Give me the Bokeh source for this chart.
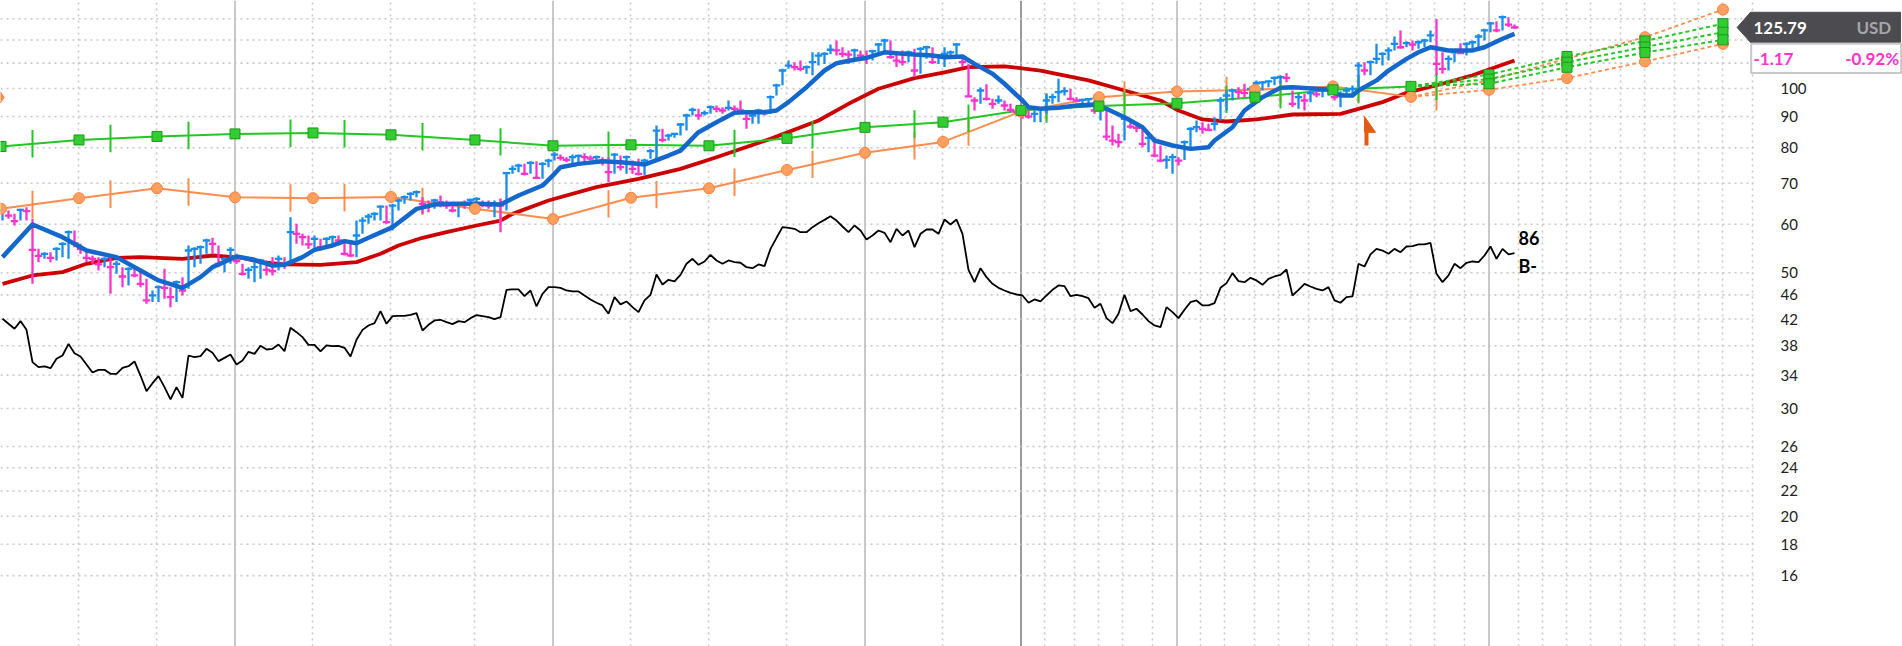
import numpy as np
from bokeh.plotting import figure
from bokeh.models import Range1d, FixedTicker, PrintfTickFormatter, Span
from bokeh.core.properties import value
from bokeh.embed import file_html
from bokeh.resources import INLINE

# ---------------- weekly price bars (week index 0..252) ----------------
high = [63.98, 63.19, 62.40, 63.58, 63.98, 61.24, 54.70, 54.02, 54.02, 55.05,
        56.10, 58.61, 58.61, 55.74, 54.02, 53.35, 53.02, 53.02, 53.02, 52.36,
        51.06, 51.06, 51.06, 50.74, 48.87, 46.77, 47.66, 50.74, 47.36, 48.57,
        49.18, 55.40, 55.05, 55.40, 56.80, 57.02, 55.40, 53.02, 55.05, 53.69,
        51.71, 51.06, 52.36, 52.69, 52.36, 53.02, 53.35, 53.02, 61.62, 60.10,
        57.88, 57.52, 57.52, 56.80, 57.16, 57.52, 57.52, 56.45, 55.74, 60.85,
        61.62, 62.40, 62.79, 64.38, 64.38, 64.79, 66.02, 66.86, 67.70, 68.12,
        66.44, 65.61, 66.02, 66.86, 65.61, 65.20, 65.20, 65.61, 66.02, 66.44,
        65.61, 65.61, 65.61, 66.02, 72.99, 74.84, 75.31, 75.31, 76.07, 76.07,
        75.78, 76.74, 78.69, 78.00, 77.22, 78.00, 78.00, 78.40, 77.71, 77.71,
        77.22, 77.22, 78.40, 77.71, 77.71, 76.26, 76.74, 76.74, 79.68, 87.00,
        85.91, 84.31, 84.52, 87.77, 90.91, 93.00, 92.64, 92.06, 93.81, 93.81,
        93.22, 95.59, 93.81, 95.59, 92.06, 91.48, 92.64, 92.29, 97.41, 101.8,
        107.7, 111.1, 110.4, 111.1, 109.0, 114.6, 114.6, 114.6, 118.0, 119.8,
        116.8, 115.4, 116.1, 115.4, 115.4, 115.7, 118.6, 120.6, 119.8, 113.9,
        115.4, 115.4, 116.1, 116.8, 117.5, 116.8, 113.9, 116.8, 115.4, 118.6,
        112.5, 109.7, 96.80, 100.4, 101.6, 96.19, 97.41, 95.59, 94.40, 93.22,
        92.64, 92.06, 92.06, 93.22, 98.02, 98.02, 103.7, 100.5, 99.90, 96.80,
        96.19, 96.43, 95.59, 94.40, 92.06, 87.00, 84.31, 90.34, 88.10, 87.55,
        85.91, 83.78, 83.26, 80.69, 77.71, 78.20, 77.22, 82.22, 86.45, 88.65,
        88.10, 87.55, 89.77, 96.80, 99.26, 99.90, 100.5, 101.8, 100.8, 103.1,
        102.8, 103.1, 104.6, 105.0, 105.9, 99.26, 98.02, 98.02, 99.26, 99.26,
        100.3, 101.1, 100.3, 99.01, 100.5, 101.1, 110.4, 110.4, 111.1, 118.3,
        114.6, 116.8, 121.6, 124.4, 119.5, 119.8, 119.8, 120.6, 124.4, 129.9,
        114.6, 113.2, 115.4, 118.6, 119.0, 119.8, 122.8, 125.2, 128.4, 128.8,
        131.6, 130.8, 127.2]
low = [60.85, 61.24, 59.72, 60.85, 60.85, 47.96, 52.03, 52.69, 52.03, 52.36,
       53.02, 52.69, 55.05, 53.69, 52.03, 51.71, 50.43, 51.06, 46.19, 49.80,
       47.36, 47.66, 49.18, 47.36, 44.49, 44.77, 44.77, 45.33, 43.93, 44.77,
       45.90, 47.06, 51.06, 51.71, 53.69, 53.69, 51.06, 50.11, 51.71, 51.71,
       49.49, 48.87, 48.26, 48.87, 49.49, 49.49, 50.43, 50.74, 51.71, 55.74,
       55.40, 54.70, 54.70, 54.36, 54.70, 55.05, 55.40, 53.35, 53.02, 53.02,
       57.88, 60.10, 60.85, 60.85, 60.10, 58.61, 63.19, 64.79, 65.61, 66.44,
       62.40, 62.79, 63.58, 63.98, 63.58, 62.79, 61.62, 63.58, 63.58, 63.98,
       63.98, 63.58, 61.62, 58.24, 63.19, 72.53, 72.99, 72.08, 72.53, 71.18,
       71.18, 74.37, 76.26, 76.26, 75.78, 75.31, 75.78, 75.78, 76.26, 75.31,
       74.84, 70.29, 72.53, 73.45, 72.53, 72.53, 72.08, 72.08, 76.74, 76.26,
       81.70, 82.22, 83.05, 83.78, 85.37, 90.34, 88.87, 90.34, 90.91, 91.48,
       90.91, 92.06, 91.48, 90.91, 85.91, 87.55, 87.55, 90.34, 90.91, 97.41,
       101.2, 107.7, 107.0, 106.7, 105.7, 105.1, 109.0, 109.7, 113.9, 113.2,
       112.5, 109.7, 111.8, 111.1, 109.7, 111.1, 113.9, 114.6, 111.8, 108.4,
       109.0, 110.4, 104.4, 105.7, 111.8, 109.7, 109.7, 108.4, 111.8, 113.2,
       108.4, 96.80, 92.06, 94.40, 95.59, 92.64, 94.40, 92.06, 91.48, 90.91,
       89.21, 89.21, 88.10, 88.10, 90.91, 94.40, 95.00, 97.41, 95.59, 95.00,
       93.81, 94.40, 90.91, 88.65, 82.22, 80.69, 80.18, 82.22, 85.91, 84.84,
       80.18, 78.69, 77.22, 75.78, 73.91, 72.53, 74.84, 76.45, 80.18, 84.84,
       84.31, 85.16, 85.37, 88.65, 92.06, 95.59, 96.19, 96.80, 96.19, 99.89,
       99.26, 100.5, 101.2, 101.8, 102.4, 93.22, 92.64, 92.06, 95.00, 96.80,
       96.80, 97.41, 95.59, 93.22, 96.80, 96.80, 100.5, 105.1, 105.1, 109.7,
       109.0, 111.1, 115.4, 116.1, 116.8, 115.4, 116.1, 116.8, 119.0, 105.1,
       105.7, 107.0, 110.4, 113.9, 113.2, 115.4, 116.8, 119.8, 123.6, 123.6,
       124.4, 126.0, 125.2]
close = [63.19, 62.00, 60.70, 63.35, 63.03, 54.50, 53.29, 53.69, 52.89, 54.70,
         55.74, 58.24, 55.88, 54.70, 52.89, 52.69, 51.58, 52.69, 51.06, 51.71,
         49.30, 50.74, 49.49, 47.96, 45.05, 45.90, 47.36, 47.24, 45.61, 48.26,
         46.77, 54.36, 54.70, 55.05, 56.45, 55.74, 51.71, 52.69, 54.50, 52.23,
         49.80, 50.55, 51.06, 52.36, 50.55, 50.30, 52.69, 51.71, 58.24, 57.88,
         57.16, 55.61, 56.80, 55.05, 56.80, 57.16, 56.45, 53.69, 53.35, 57.52,
         60.85, 61.78, 62.40, 64.14, 60.47, 64.38, 65.61, 66.44, 67.28, 67.70,
         64.79, 64.38, 65.61, 65.20, 64.38, 63.19, 64.79, 64.63, 65.77, 66.02,
         64.79, 64.38, 64.79, 64.38, 72.71, 73.91, 74.84, 72.53, 75.60, 71.45,
         75.31, 76.26, 78.00, 77.03, 76.45, 77.22, 77.61, 77.22, 76.84, 77.22,
         76.26, 72.99, 78.00, 74.37, 77.22, 73.91, 72.53, 76.26, 78.98, 85.37,
         82.43, 83.78, 84.31, 87.33, 90.34, 92.29, 90.34, 91.14, 93.22, 92.64,
         92.06, 92.99, 92.64, 92.06, 89.21, 90.34, 92.06, 91.14, 96.80, 101.2,
         107.0, 109.0, 108.4, 107.7, 108.4, 110.4, 113.2, 113.9, 115.7, 115.4,
         113.9, 113.6, 115.4, 113.2, 112.5, 115.1, 118.0, 119.8, 112.5, 111.1,
         110.4, 114.6, 107.0, 116.1, 116.8, 110.4, 113.2, 113.9, 114.6, 118.0,
         110.4, 97.05, 95.59, 99.26, 96.19, 94.40, 95.59, 93.81, 92.29, 91.48,
         90.91, 90.00, 90.91, 92.64, 95.59, 96.80, 98.64, 99.01, 96.19, 95.59,
         95.83, 96.07, 92.06, 93.22, 83.47, 82.22, 81.70, 89.21, 86.67, 86.24,
         81.19, 83.05, 77.71, 76.26, 76.45, 77.22, 76.26, 81.70, 85.91, 86.45,
         85.91, 85.59, 87.55, 95.59, 97.41, 99.26, 98.64, 98.27, 99.89, 102.0,
         102.3, 102.7, 104.1, 104.4, 104.1, 94.40, 96.80, 95.59, 98.27, 97.78,
         99.51, 100.3, 96.80, 98.02, 99.26, 99.89, 109.0, 107.0, 110.4, 111.8,
         113.9, 115.4, 118.3, 116.8, 118.6, 118.0, 119.0, 119.8, 122.1, 109.7,
         107.7, 111.8, 114.6, 114.2, 118.3, 119.0, 121.6, 124.4, 127.8, 124.4,
         130.8, 127.2, 125.79]

# ---------------- relative strength line ----------------
rs_line = [42.05, 41.26, 40.49, 41.68, 40.33, 35.72, 35.05, 35.14, 34.92, 36.17,
           36.62, 38.26, 36.94, 36.48, 35.40, 34.35, 34.70, 34.70, 34.18, 34.18,
           34.96, 35.18, 35.81, 33.96, 32.02, 33.00, 33.88, 32.51, 31.04, 32.51,
           31.23, 36.62, 36.39, 36.53, 37.55, 36.99, 35.85, 36.30, 36.76, 35.40,
           35.94, 37.13, 36.85, 37.98, 37.46, 37.55, 38.17, 37.22, 40.64, 39.98,
           39.24, 38.12, 38.12, 37.18, 38.03, 37.93, 37.98, 37.70, 36.48, 38.85,
           40.33, 41.00, 41.36, 43.27, 41.26, 42.47, 42.52, 42.52, 42.68, 42.95,
           40.23, 41.10, 41.78, 41.89, 41.52, 41.21, 41.68, 41.52, 42.15, 42.63,
           42.47, 42.31, 42.00, 42.31, 46.89, 46.95, 46.95, 45.78, 46.77, 44.04,
           46.19, 47.36, 47.36, 47.24, 46.77, 46.60, 46.60, 45.90, 45.22, 44.66,
           44.21, 42.84, 45.61, 44.38, 44.88, 43.93, 43.11, 45.05, 46.01, 49.67,
           47.84, 48.69, 48.39, 49.61, 51.71, 52.69, 51.51, 52.16, 53.49, 52.36,
           51.71, 52.36, 52.03, 51.91, 51.06, 50.87, 51.58, 51.26, 54.70, 57.02,
           59.35, 59.20, 58.98, 58.24, 58.24, 59.35, 60.25, 61.00, 61.85, 60.85,
           59.50, 58.24, 59.72, 58.61, 56.66, 57.52, 58.61, 58.10, 56.10, 58.98,
           57.52, 58.61, 55.05, 57.88, 58.83, 58.83, 57.88, 61.08, 59.95, 61.08,
           57.88, 50.55, 48.26, 50.87, 49.18, 47.96, 47.24, 46.77, 46.36, 46.07,
           45.90, 44.66, 45.22, 44.88, 45.90, 46.89, 47.66, 47.54, 45.78, 46.01,
           45.78, 45.44, 43.82, 44.49, 42.15, 41.36, 42.84, 46.01, 43.27, 43.66,
           42.73, 41.68, 41.00, 40.74, 43.93, 43.11, 42.15, 43.49, 44.77, 45.05,
           44.21, 44.21, 44.60, 47.24, 48.08, 49.92, 48.45, 48.26, 49.05, 48.57,
           47.78, 48.87, 49.30, 49.61, 50.61, 45.90, 46.89, 47.96, 47.48, 47.06,
           46.77, 47.36, 45.05, 44.66, 45.61, 45.73, 51.71, 51.19, 53.56, 54.70,
           54.36, 53.69, 54.70, 54.02, 55.19, 55.26, 55.61, 55.61, 55.95, 49.80,
           48.26, 49.49, 51.71, 50.87, 51.91, 52.16, 52.03, 53.35, 55.19, 52.69,
           54.70, 53.56, 53.83]
rs_rank = "86"
rs_grade = "B-"

# ---------------- moving averages (read at sample weeks) ----------------
ma10_week = [0, 5, 10, 14, 19, 23, 26, 30, 33, 35, 39, 42, 45, 47, 50, 52, 55, 57, 59, 61,
             64, 65, 69, 72, 75, 79, 83, 86, 90, 92, 93, 96, 100, 103, 105, 107, 111, 113,
             116, 119, 122, 124, 127, 129, 131, 134, 137, 139, 142, 144, 147, 149, 152,
             155, 157, 160, 162, 165, 167, 170, 171, 173, 176, 179, 182, 184, 187, 190,
             192, 195, 198, 201, 202, 205, 207, 210, 213, 215, 219, 221, 223, 225, 226,
             229, 231, 234, 236, 238, 241, 245, 247, 250, 252]
ma10_value = [53.02, 59.95, 57.16, 54.36, 53.02, 50.43, 48.57, 47.24, 49.18, 51.06, 53.15,
              52.49, 51.38, 51.51, 53.02, 54.50, 55.40, 56.31, 55.88, 57.02, 58.76, 59.35,
              63.58, 64.63, 64.79, 64.79, 64.63, 66.86, 69.42, 72.53, 74.37, 75.31, 76.07,
              75.78, 75.50, 75.12, 77.71, 79.18, 84.84, 88.10, 91.25, 91.48, 91.48, 92.06,
              95.00, 100.5, 107.0, 110.0, 111.4, 112.2, 114.6, 114.2, 113.6, 113.2, 112.5,
              112.8, 109.7, 105.7, 101.8, 95.59, 93.22, 92.64, 92.99, 93.81, 94.16, 92.64,
              89.77, 86.45, 82.22, 80.69, 79.68, 80.18, 82.22, 86.45, 92.06, 96.80, 100.3,
              100.5, 99.90, 99.51, 97.41, 97.41, 99.26, 103.1, 107.0, 111.8, 114.6, 116.8,
              115.4, 115.4, 116.8, 120.6, 122.8]
ma40_week = [0, 5, 10, 14, 19, 23, 30, 35, 40, 43, 47, 53, 59, 63, 66, 70, 74, 79, 83, 85,
             91, 99, 106, 113, 119, 128, 136, 141, 146, 152, 157, 161, 167, 173, 181, 187,
             193, 196, 200, 204, 209, 215, 223, 226, 230, 234, 240, 245, 252]
ma40_value = [47.96, 49.49, 50.11, 51.71, 52.89, 53.02, 52.69, 53.35, 52.89, 52.03, 51.58,
              51.51, 52.03, 53.69, 55.40, 57.02, 58.24, 59.72, 60.85, 62.40, 65.61, 68.98,
              71.18, 73.91, 77.22, 82.74, 88.65, 94.40, 99.89, 104.0, 106.3, 108.4, 108.7,
              107.0, 103.1, 99.26, 95.59, 92.06, 89.00, 88.32, 89.00, 90.68, 90.91, 92.64,
              95.00, 98.39, 101.8, 105.1, 111.1]

# ---------------- quarterly EPS (green) and sales (orange) lines ----------------
quarter_week = [0, 13, 26, 39, 52, 65, 79, 92, 105, 118, 131, 144, 157, 170, 183, 196,
                209, 222, 235]
eps_line = [80.4, 82.4, 83.5, 84.3, 84.6, 84.0, 82.4, 80.6, 80.9, 80.6, 82.9, 86.4, 88.1,
            92.1, 93.6, 94.6, 96.8, 99.5, 100.8]
sales_line = [63.6, 66.2, 68.7, 66.4, 66.2, 66.5, 63.6, 61.2, 66.3, 68.7, 73.6, 78.5, 81.8,
              91.7, 96.8, 98.9, 99.5, 100.8, 96.9]
report_week = [5, 18, 31, 48, 57, 70, 83, 101, 109, 122, 135, 152, 161, 174, 187, 204,
               213, 226, 239]
estimate_week = [248, 261, 274, 287]
eps_est_high = [105.4, 112.8, 119.6, 127.6]
eps_est_mid = [103.6, 110.4, 116.9, 123.6]
eps_est_low = [101.8, 108.3, 114.5, 120.1]
sales_est_high = [103.1, 111.9, 121.3, 134.6]
sales_est_low = [99.5, 104.0, 110.7, 118.3]
offchart_sales_marker = 96.7

# buy-point flag
flag_week = 227
flag_top, flag_base, flag_bottom = 90.0, 84.8, 80.7

# price tag
last_price = close[-1]
price_change = "-1.17"
price_change_pct = "-0.92%"
currency = "USD"

# ---------------- axes / grid ----------------
price_ticks = [16, 18, 20, 22, 24, 26, 30, 34, 38, 42, 46, 50, 60, 70, 80, 90, 100]
grid_price_ticks = price_ticks + [110, 120, 130]
quarter_grid = [13, 26, 52, 65, 79, 105, 118, 131, 157]
month_grid = [174, 179, 183, 187, 192, 200, 204, 209, 213, 218, 222, 226, 231, 235, 239,
              244, 253, 257, 261, 265, 270, 274, 279, 283, 287, 292]
year_lines = [39, 92, 144, 196, 248]
scale_change_line = 170

# plot geometry in week units (6 px per week)
X_START, X_END = -1 / 3, 316.667
PLOT_EDGE = 291.83          # right edge of the chart area (week units)
TAG_LEFT, TAG_RIGHT = 291.33, 316.33

BLUE_BAR = "#1a8cf0"
PINK_BAR = "#ff33cc"
GREEN = "#22c722"
ORANGE = "#ff8c4c"
GRID = "#c8c8c8"
FONT = "Lato"

weeks = list(range(len(close)))
bar_color = [BLUE_BAR] + [BLUE_BAR if close[i] >= close[i - 1] else PINK_BAR
                          for i in range(1, len(close))]

p = figure(width=1902, height=646, x_range=Range1d(X_START, X_END),
           y_range=Range1d(12.253, 139.25), y_axis_type="log",
           y_axis_location="right", x_axis_location=None,
           toolbar_location=None, output_backend="svg", title=None,
           min_border_left=0, min_border_right=0, min_border_top=0,
           min_border_bottom=0)
p.outline_line_color = None

ax = p.yaxis[0]
ax.fixed_location = PLOT_EDGE
ax.ticker = FixedTicker(ticks=price_ticks)
ax.formatter = PrintfTickFormatter(format="%d")
ax.axis_line_color = None
ax.major_tick_line_color = None
ax.minor_tick_line_color = None
ax.major_tick_out = 0
ax.major_tick_in = 0
ax.major_label_standoff = 27
ax.major_label_text_font = FONT
ax.major_label_text_font_size = "15px"
ax.major_label_text_color = "#222222"

p.ygrid.visible = False
p.xgrid.ticker = FixedTicker(ticks=[g - 0.25 for g in quarter_grid + month_grid])
p.xgrid.grid_line_color = GRID
p.xgrid.grid_line_dash = "2 4"
p.xgrid.grid_line_width = 1.6

# horizontal dotted grid lines, ending at the chart's right edge
n = len(grid_price_ticks)
p.segment(x0=[X_START] * n, y0=grid_price_ticks, x1=[PLOT_EDGE] * n, y1=grid_price_ticks,
          line_color=GRID, line_dash="2 4", line_width=1.6)

for g in year_lines:
    p.add_layout(Span(location=g - 0.25, dimension="height", line_color=GRID,
                      line_width=2, level="underlay"))
p.add_layout(Span(location=scale_change_line - 0.25, dimension="height",
                  line_color="#9a9a9a", line_width=2, level="underlay"))

# RS line
p.line(weeks, rs_line, line_color="black", line_width=1.8)
p.text(x=[weeks[-1]], y=[rs_line[-1]], text=[rs_rank], x_offset=4, y_offset=-15,
       text_font=value(FONT), text_font_style="bold", text_font_size="18px",
       text_baseline="middle", text_align="left", text_color="black")
p.text(x=[weeks[-1]], y=[rs_line[-1]], text=[rs_grade], x_offset=4, y_offset=13,
       text_font=value(FONT), text_font_style="bold", text_font_size="18px",
       text_baseline="middle", text_align="left", text_color="black")

# 40-week MA
p.line(ma40_week, ma40_value, line_color="#cc0000", line_width=3.8, line_join="round")

# quarterly lines
qx = [q - 0.25 for q in quarter_week]
p.line(qx, sales_line, line_color=ORANGE, line_width=2)
p.line(qx, eps_line, line_color=GREEN, line_width=2)
sales_c = 10 ** np.interp(report_week, qx, np.log10(sales_line))
eps_c = 10 ** np.interp(report_week, qx, np.log10(eps_line))
p.segment(x0=report_week, y0=sales_c / 1.053, x1=report_week, y1=sales_c * 1.053,
          line_color=ORANGE, line_width=2)
p.segment(x0=report_week, y0=eps_c / 1.053, x1=report_week, y1=eps_c * 1.053,
          line_color=GREEN, line_width=2)
p.scatter([X_START], [offchart_sales_marker], marker="diamond", size=11,
          fill_color=ORANGE, line_color=ORANGE)

# price bars
p.segment(x0=weeks, y0=low, x1=weeks, y1=high, line_color=bar_color, line_width=2.3)
p.segment(x0=[w - 0.62 for w in weeks], y0=close, x1=[w + 0.62 for w in weeks],
          y1=close, line_color=bar_color, line_width=2.3)

# 10-week MA
p.line(ma10_week, ma10_value, line_color="#1468cc", line_width=4.5, line_join="round")

# estimate projections
ex = [qx[-1]] + [q - 0.25 for q in estimate_week]
for est in (sales_est_high, sales_est_low):
    p.line(ex, [sales_line[-1]] + est, line_color=ORANGE, line_width=1.8, line_dash="4 3")
for est in (eps_est_high, eps_est_mid, eps_est_low):
    p.line(ex, [eps_line[-1]] + est, line_color=GREEN, line_width=2, line_dash="4 3")

# markers
p.scatter(qx, sales_line, marker="circle", size=11, fill_color="#ffa060",
          line_color="#ff8040", line_width=1)
for est in (sales_est_high, sales_est_low):
    p.scatter(ex[1:], est, marker="circle", size=11, fill_color="#ffa060",
              line_color="#ff8040", line_width=1)
p.scatter(qx, eps_line, marker="square", size=10, fill_color="#33cc33",
          line_color="#1a9a1a", line_width=1)
for est in (eps_est_high, eps_est_mid, eps_est_low):
    p.scatter(ex[1:], est, marker="square", size=10, fill_color="#33cc33",
              line_color="#1a9a1a", line_width=1)

# buy-point flag
p.patch([flag_week, flag_week, flag_week + 1.83], [flag_top, flag_base, flag_base],
        fill_color="#e55b13", line_color="#e55b13")
p.segment(x0=[flag_week + 0.33], y0=[flag_bottom], x1=[flag_week + 0.33], y1=[flag_base],
          line_color="#e55b13", line_width=4)

# price tag (last close) and change box
tag_top, tag_bottom = last_price * 1.059, last_price / 1.057
p.patch([289.1, TAG_LEFT, TAG_LEFT], [last_price, tag_top, tag_bottom],
        fill_color="#4b4b50", line_color="#4b4b50")
p.quad(left=[TAG_LEFT], right=[TAG_RIGHT], top=[tag_top], bottom=[tag_bottom],
       fill_color="#4b4b50", line_color="#4b4b50")
p.text(x=[PLOT_EDGE], y=[last_price], text=[f"{last_price:.2f}"], text_color="white",
       text_font=value(FONT), text_font_style="bold", text_font_size="17px",
       text_align="left", text_baseline="middle")
p.text(x=[314.8], y=[last_price], text=[currency], text_color="#a6a6a6",
       text_font=value(FONT), text_font_style="bold", text_font_size="17px",
       text_align="right", text_baseline="middle")
chg_y = last_price / 1.124
chg_top, chg_bottom = last_price / 1.063, last_price / 1.187
p.quad(left=[291.45], right=[316.45], top=[chg_top], bottom=[chg_bottom],
       fill_color="white", line_color=GRID, line_width=2)
p.text(x=[PLOT_EDGE], y=[chg_y], text=[price_change], text_color=PINK_BAR,
       text_font=value(FONT), text_font_style="bold", text_font_size="17px",
       text_align="left", text_baseline="middle")
p.text(x=[316.1], y=[chg_y], text=[price_change_pct], text_color=PINK_BAR,
       text_font=value(FONT), text_font_style="bold", text_font_size="17px",
       text_align="right", text_baseline="middle")

open("out.html", "w").write(file_html(p, INLINE))
